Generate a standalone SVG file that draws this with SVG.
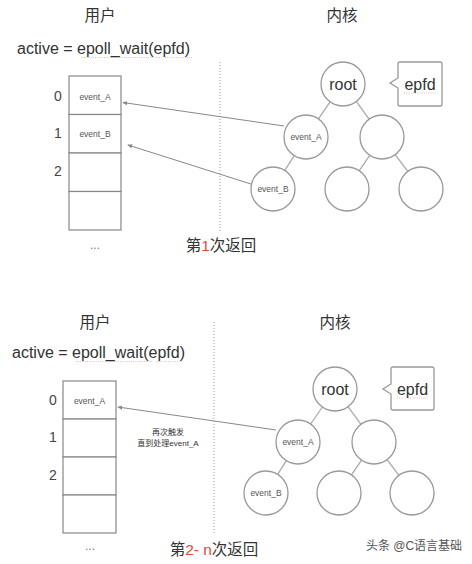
<svg xmlns="http://www.w3.org/2000/svg" width="472" height="564" viewBox="0 0 472 564">
<style>
.t{font-family:"Liberation Sans","Noto Sans CJK SC",sans-serif;fill:#333;text-anchor:middle;dominant-baseline:central}
.h{font-size:15.5px}
.code{font-size:16px;text-anchor:start}
.idx{font-size:14px;fill:#444}
.sm{font-size:8.5px;fill:#555}
.tiny{font-size:8px;fill:#333}
.node{fill:#fff;stroke:#999;stroke-width:1.3}
.cell{fill:#fff;stroke:#888;stroke-width:1.2}
.edge{stroke:#aaa;stroke-width:1.3;fill:none}
.arr{stroke:#888;stroke-width:1;fill:none;marker-end:url(#ah)}
.dot{stroke:#999;stroke-width:1;stroke-dasharray:1 2}
.sq{stroke:#d88;stroke-width:0.8;stroke-dasharray:1 1.2;opacity:0.7}
.red{fill:#e2473d}
</style>
<defs>
<marker id="ah" viewBox="0 0 6 6" refX="5" refY="3" markerWidth="5" markerHeight="5" orient="auto-start-reverse" markerUnits="userSpaceOnUse">
<path d="M0,0.5 L6,3 L0,5.5 Z" fill="#888"/>
</marker>
</defs>
<rect width="472" height="564" fill="#fff"/>

<!-- ===== Top half ===== -->
<g id="top-user">
<text class="t h" x="100" y="15">用户</text>
<text class="t code" x="17" y="48">active = epoll_wait(epfd)</text>
<line class="sq" x1="82" y1="57.5" x2="160" y2="57.5"/>
<line class="sq" x1="165" y1="57.5" x2="192" y2="57.5"/>
</g>
<g id="top-array">
<rect class="cell" x="69" y="76" width="52" height="38.5"/>
<rect class="cell" x="69" y="114.5" width="52" height="38.5"/>
<rect class="cell" x="69" y="153" width="52" height="38.5"/>
<rect class="cell" x="69" y="191.5" width="52" height="38.5"/>
<text class="t sm" x="95" y="97">event_A</text>
<text class="t sm" x="95" y="134">event_B</text>
<text class="t idx" x="58" y="96">0</text>
<text class="t idx" x="58" y="133">1</text>
<text class="t idx" x="58" y="171">2</text>
<text class="t" x="95" y="245" style="font-size:12px;fill:#777">...</text>
</g>
<line id="top-divider" class="dot" x1="220" y1="62" x2="220" y2="232"/>
<g id="top-kernel-title"><text class="t h" x="342" y="15">内核</text></g>
<g id="top-caption"><text class="t h" x="221" y="245">第<tspan class="red">1</tspan>次返回</text></g>

<g id="top-connectors">
<line class="edge" x1="330.6" y1="101.1" x2="318.4" y2="118.9"/>
<line class="edge" x1="355.9" y1="100.8" x2="369.1" y2="119.2"/>
<line class="edge" x1="294.2" y1="155.6" x2="284.8" y2="170.4"/>
<line class="edge" x1="369.7" y1="155.3" x2="359.3" y2="170.7"/>
<line class="edge" x1="395.2" y1="154.6" x2="407.8" y2="171.4"/>
<line class="arr" x1="284" y1="126" x2="123" y2="102.5"/>
<line class="arr" x1="251" y1="184" x2="128" y2="145"/>
</g>
<g id="top-root"><circle class="node" cx="343" cy="84" r="22"/><text class="t" x="343" y="84" style="font-size:16px">root</text></g>
<g id="top-epfd">
<path class="node" d="M400,62 H440 Q442,62 442,64 V104 Q442,106 440,106 H400 Q398,106 398,104 V88 L390,83 L398,78 V64 Q398,62 400,62 Z"/>
<text class="t" x="420" y="84" style="font-size:16px">epfd</text>
<line class="sq" x1="404" y1="93" x2="436" y2="93"/>
</g>
<g id="top-eventA"><circle class="node" cx="306" cy="137" r="22"/><text class="t sm" x="306" y="137">event_A</text></g>
<g id="top-right"><circle class="node" cx="382" cy="137" r="22"/></g>
<g id="top-eventB"><circle class="node" cx="273" cy="189" r="22"/><text class="t sm" x="273" y="189">event_B</text></g>
<g id="top-bm"><circle class="node" cx="347" cy="189" r="22"/></g>
<g id="top-br"><circle class="node" cx="421" cy="189" r="22"/></g>

<!-- ===== Bottom half ===== -->
<g id="bot-user">
<text class="t h" x="95" y="322">用户</text>
<text class="t code" x="12" y="352">active = epoll_wait(epfd)</text>
<line class="sq" x1="76" y1="361.5" x2="152" y2="361.5"/>
<line class="sq" x1="157" y1="361.5" x2="183" y2="361.5"/>
</g>
<g id="bot-array">
<rect class="cell" x="63" y="381" width="53" height="38"/>
<rect class="cell" x="63" y="419" width="53" height="38"/>
<rect class="cell" x="63" y="457" width="53" height="38"/>
<rect class="cell" x="63" y="495" width="53" height="38"/>
<text class="t sm" x="89.5" y="401">event_A</text>
<text class="t idx" x="53" y="400">0</text>
<text class="t idx" x="53" y="437">1</text>
<text class="t idx" x="53" y="475">2</text>
<text class="t" x="90" y="546" style="font-size:12px;fill:#777">...</text>
</g>
<line id="bot-divider" class="dot" x1="214" y1="322" x2="214" y2="535"/>
<g id="bot-kernel-title"><text class="t h" x="335" y="322">内核</text></g>
<g id="bot-caption"><text class="t h" x="214" y="549">第<tspan class="red">2- n</tspan>次返回</text></g>
<g id="bot-note">
<text class="t tiny" x="168" y="432">再次触发</text>
<text class="t tiny" x="168" y="443">直到处理event_A</text>
</g>

<g id="bot-connectors">
<line class="edge" x1="322.4" y1="407" x2="310.6" y2="424"/>
<line class="edge" x1="348" y1="406.7" x2="361" y2="424.3"/>
<line class="edge" x1="286.3" y1="460.6" x2="277.7" y2="474.4"/>
<line class="edge" x1="361.5" y1="460.1" x2="351.5" y2="474.9"/>
<line class="edge" x1="387.1" y1="459.6" x2="398.9" y2="475.4"/>
<line class="arr" x1="276" y1="430" x2="118" y2="407"/>
</g>
<g id="bot-root"><circle class="node" cx="335" cy="389" r="22"/><text class="t" x="335" y="389" style="font-size:16px">root</text></g>
<g id="bot-epfd">
<path class="node" d="M393,367 H432 Q434,367 434,369 V408 Q434,410 432,410 H393 Q391,410 391,408 V394 L383,389 L391,384 V369 Q391,367 393,367 Z"/>
<text class="t" x="412.5" y="389" style="font-size:16px">epfd</text>
<line class="sq" x1="397" y1="398" x2="428" y2="398"/>
</g>
<g id="bot-eventA"><circle class="node" cx="298" cy="442" r="22"/><text class="t sm" x="298" y="442">event_A</text></g>
<g id="bot-right"><circle class="node" cx="374" cy="442" r="22"/></g>
<g id="bot-eventB"><circle class="node" cx="266" cy="493" r="22"/><text class="t sm" x="266" y="493">event_B</text></g>
<g id="bot-bm"><circle class="node" cx="339" cy="493" r="22"/></g>
<g id="bot-br"><circle class="node" cx="412" cy="493" r="22"/></g>

<g id="watermark"><text class="t" x="414" y="546" style="font-size:12px;fill:#555">头条 @C语言基础</text></g>
</svg>
